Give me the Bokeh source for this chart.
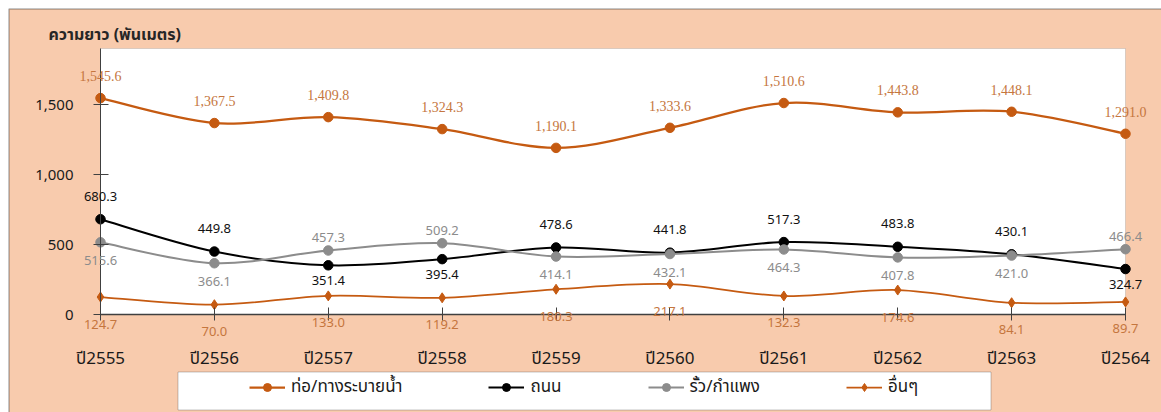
import numpy as np
from bokeh.plotting import figure
from bokeh.models import (Range1d, FixedTicker, NumeralTickFormatter, ColumnDataSource,
                          LabelSet, Label, Legend, LegendItem, BoxAnnotation)
from bokeh.core.properties import value
from bokeh.embed import file_html
from bokeh.resources import INLINE

# ---------------- data ----------------
years = ["ปี2555", "ปี2556", "ปี2557", "ปี2558", "ปี2559",
         "ปี2560", "ปี2561", "ปี2562", "ปี2563", "ปี2564"]
series_names = ["ท่อ/ทางระบายน้ำ", "ถนน", "รั้ว/กำแพง", "อื่นๆ"]
drain = [1545.6, 1367.5, 1409.8, 1324.3, 1190.1, 1333.6, 1510.6, 1443.8, 1448.1, 1291.0]
road = [680.3, 449.8, 351.4, 395.4, 478.6, 441.8, 517.3, 483.8, 430.1, 324.7]
fence = [515.6, 366.1, 457.3, 509.2, 414.1, 432.1, 464.3, 407.8, 421.0, 466.4]
other = [124.7, 70.0, 133.0, 119.2, 180.3, 217.1, 132.3, 174.6, 84.1, 89.7]
y_ticks = [0, 500, 1000, 1500]
y_title = "ความยาว (พันเมตร)"

# ---------------- layout (pixels) ----------------
W, H = 1161, 412
N = len(years)
Y_MAX = 1900
PL, PT, PR, PB = 100, 48, 1125, 314        # plot area edges in px
UX = (PR - PL) / (N - 1)
UY = (PB - PT) / Y_MAX

def dx(px):
    return (px - PL) / UX

def dy(py):
    return (PB - py) / UY

PEACH = "#F8CBAD"
ORANGE = "#C55A11"
ORANGE_LBL = "#C5763E"
GRAY = "#8C8C8C"
THAI = "'Noto Sans', 'Noto Sans Thai', Tahoma, 'DejaVu Sans', sans-serif"
SANS = "'Noto Sans', 'DejaVu Sans', sans-serif"

p = figure(width=W, height=H, x_range=Range1d(dx(0), dx(W)), y_range=Range1d(dy(H), dy(0)),
           output_backend="svg", toolbar_location=None, min_border=0,
           min_border_left=0, min_border_right=0, min_border_top=0, min_border_bottom=0)
p.background_fill_color = "white"
p.border_fill_color = "white"
p.outline_line_color = None
p.xgrid.visible = False
p.ygrid.visible = False

# chart area (peach) with black border, and white plot area
p.add_layout(BoxAnnotation(left=dx(8.5), right=dx(W + 50), top=dy(8.5), bottom=dy(H + 50),
                           fill_color=PEACH, fill_alpha=1, line_color="black",
                           line_width=1.5, level="underlay"))
p.add_layout(BoxAnnotation(left=0, right=N - 1, bottom=0, top=Y_MAX,
                           fill_color="white", fill_alpha=1, line_color="#8C8C8C",
                           line_width=1, level="underlay"))

# y axis
p.yaxis.fixed_location = 0
p.yaxis.bounds = (0, Y_MAX)
p.yaxis.ticker = FixedTicker(ticks=y_ticks)
p.yaxis.formatter = NumeralTickFormatter(format="0,0")
p.yaxis.major_tick_in = 8
p.yaxis.major_tick_out = 7
p.yaxis.minor_tick_line_color = None
p.yaxis.axis_line_color = "#404040"
p.yaxis.major_tick_line_color = "#404040"
p.yaxis.major_label_text_font = SANS
p.yaxis.major_label_text_font_size = "15px"
p.yaxis.major_label_text_color = "#1A1A1A"
p.yaxis.major_label_standoff = 20

# x axis
p.xaxis.fixed_location = 0
p.xaxis.bounds = (0, N - 1)
p.xaxis.ticker = FixedTicker(ticks=list(range(N)))
p.xaxis.major_label_overrides = {i: y for i, y in enumerate(years)}
p.xaxis.major_tick_in = 7
p.xaxis.major_tick_out = 6
p.xaxis.minor_tick_line_color = None
p.xaxis.axis_line_color = "#404040"
p.xaxis.axis_line_width = 1.5
p.xaxis.major_tick_line_color = "#404040"
p.xaxis.major_label_text_font = THAI
p.xaxis.major_label_text_font_size = "17px"
p.xaxis.major_label_text_color = "#1A1A1A"
p.xaxis.major_label_standoff = 25

# ---------------- smoothed lines ----------------
def smooth(xs, ys, t=1/6):
    xs = np.asarray(xs, float); ys = np.asarray(ys, float)
    n = len(xs)
    d = dict(x0=[], y0=[], x1=[], y1=[], cx0=[], cy0=[], cx1=[], cy1=[])
    for i in range(n - 1):
        a, b = max(i - 1, 0), min(i + 2, n - 1)
        d["x0"].append(xs[i]); d["y0"].append(ys[i])
        d["x1"].append(xs[i + 1]); d["y1"].append(ys[i + 1])
        d["cx0"].append(xs[i] + (xs[i + 1] - xs[a]) * t)
        d["cy0"].append(ys[i] + (ys[i + 1] - ys[a]) * t)
        d["cx1"].append(xs[i + 1] - (xs[b] - xs[i]) * t)
        d["cy1"].append(ys[i + 1] - (ys[b] - ys[i]) * t)
    return ColumnDataSource(d)

xs = list(range(N))
styles = [
    (drain, ORANGE, 2.25, "circle", 9.5),
    (road, "black", 2.0, "circle", 9.5),
    (fence, GRAY, 2.0, "circle", 9.5),
    (other, ORANGE, 1.75, "diamond", 10),
]
items = []
for name, (vals, col, lw, mk, ms) in zip(series_names, styles):
    br = p.bezier(x0="x0", y0="y0", x1="x1", y1="y1", cx0="cx0", cy0="cy0",
                  cx1="cx1", cy1="cy1", source=smooth(xs, vals), line_color=col, line_width=lw)
    sr = p.scatter(xs, vals, marker=mk, size=ms, fill_color=col, line_color=col)
    items.append(LegendItem(label=name, renderers=[br, sr]))

# ---------------- data labels ----------------
def fmt(v):
    return f"{v:,.1f}"

def labels(idx, vals, color, font, size, offset):
    src = ColumnDataSource(dict(x=[xs[i] for i in idx], y=[vals[i] for i in idx],
                                t=[fmt(vals[i]) for i in idx]))
    p.add_layout(LabelSet(x="x", y="y", text="t", source=src, text_align="center",
                          text_baseline="middle", y_offset=offset, text_color=color,
                          text_font=value(font), text_font_size=size))

all_idx = list(range(N))
labels(all_idx, drain, ORANGE_LBL, "'Liberation Serif', serif", "14px", 22)
road_up = [i for i in all_idx if road[i] >= fence[i]]
road_dn = [i for i in all_idx if road[i] < fence[i]]
labels(road_up, road, "#111111", SANS, "13px", 23)
labels(road_dn, road, "#111111", SANS, "13px", -15)
labels(road_dn, fence, GRAY, SANS, "13px", 13)
labels(road_up, fence, GRAY, SANS, "13px", -18)
labels(all_idx, other, ORANGE_LBL, SANS, "13px", -27)

# title
p.add_layout(Label(x=dx(48), y=dy(33), text=y_title, text_align="left",
                   text_baseline="middle", text_font=THAI, text_font_size="16px",
                   text_font_style="bold", text_color="#262626"))

# ---------------- legend ----------------
p.add_layout(BoxAnnotation(left=dx(177.5), right=dx(990.5), top=dy(371.5), bottom=dy(409.5),
                           fill_color="white", fill_alpha=1, line_color="#404040", line_width=1))
legend = Legend(items=items, orientation="horizontal", location=(249, H - 20 - 380),
                glyph_width=36, glyph_height=20, label_height=20, label_standoff=6,
                spacing=86, padding=0, margin=0, border_line_alpha=0,
                background_fill_alpha=0, label_text_font=THAI,
                label_text_font_size="17px", label_text_color="#1A1A1A")
p.add_layout(legend)

open("out.html", "w").write(file_html(p, INLINE))
